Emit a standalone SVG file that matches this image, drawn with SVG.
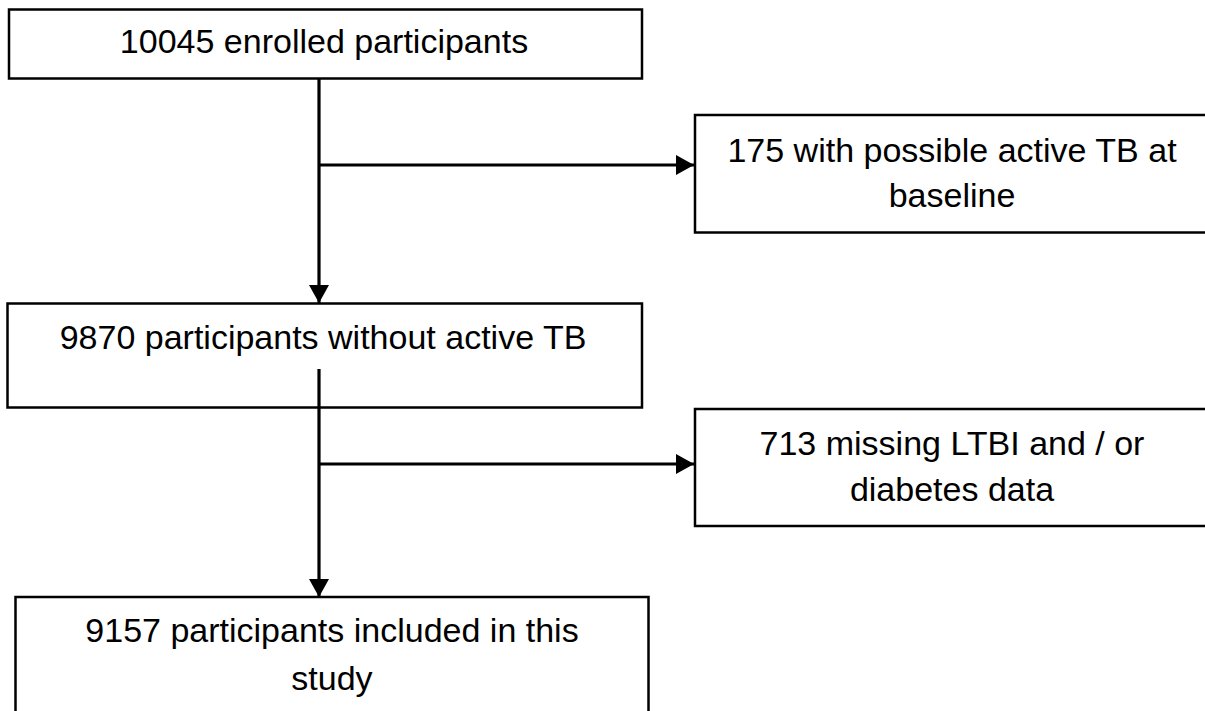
<svg xmlns="http://www.w3.org/2000/svg" width="1205" height="711" viewBox="0 0 1205 711">
<style>
.box{fill:#fff;stroke:#000;stroke-width:2.5}
.t{font-family:"Liberation Sans",Arial,sans-serif;font-size:34px;fill:#000;text-anchor:middle}
.ln{fill:none;stroke:#000;stroke-width:3.2}
</style>
<defs>
<marker id="ah" viewBox="0 0 18 20" refX="18" refY="10" markerWidth="18" markerHeight="20" orient="auto" markerUnits="userSpaceOnUse">
<path d="M0,0 L18,10 L0,20 Z" fill="#000"/>
</marker>
</defs>
<rect width="1205" height="711" fill="#fff"/>
<g id="n1">
<rect class="box" x="9" y="9.5" width="633" height="69"/>
<text class="t" x="324" y="53">10045 enrolled participants</text>
</g>
<g id="n2">
<rect class="box" x="695" y="115" width="520" height="117.5"/>
<text class="t" x="952" y="162">175 with possible active TB at</text>
<text class="t" x="952" y="207">baseline</text>
</g>
<g id="n3">
<rect class="box" x="7.5" y="303.5" width="634.5" height="104"/>
<text class="t" x="323" y="349">9870 participants without active TB</text>
</g>
<g id="n4">
<rect class="box" x="695" y="409" width="520" height="117"/>
<text class="t" x="952" y="455">713 missing LTBI and / or</text>
<text class="t" x="952" y="501">diabetes data</text>
</g>
<g id="n5">
<rect class="box" x="15.5" y="597" width="633" height="130"/>
<text class="t" x="332" y="642">9157 participants included in this</text>
<text class="t" x="332" y="690">study</text>
</g>
<g id="connectors">
<line class="ln" x1="319" y1="79" x2="319" y2="303" marker-end="url(#ah)"/>
<line class="ln" x1="319" y1="165" x2="694" y2="165" marker-end="url(#ah)"/>
<line class="ln" x1="319" y1="369" x2="319" y2="597" marker-end="url(#ah)"/>
<line class="ln" x1="319" y1="464" x2="694" y2="464" marker-end="url(#ah)"/>
</g>
</svg>
